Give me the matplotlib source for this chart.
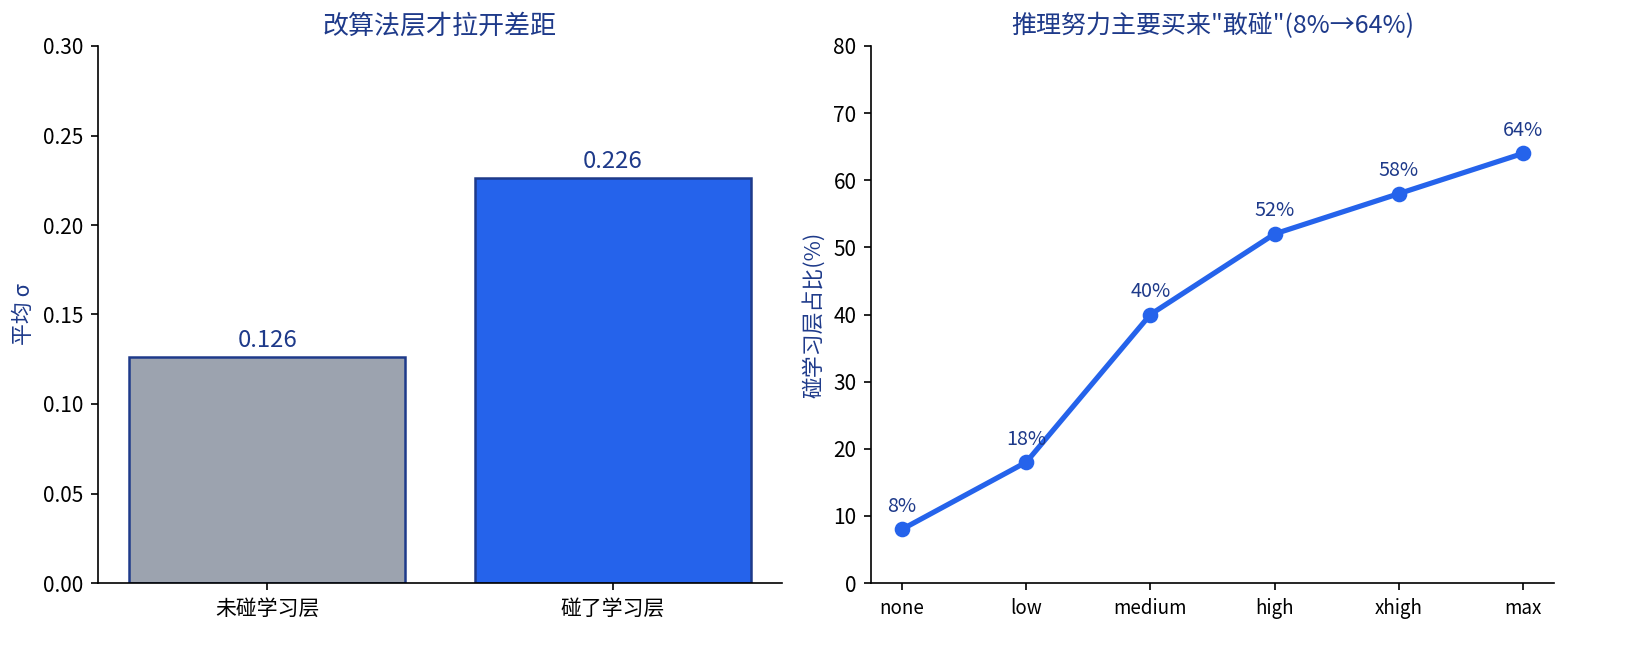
import matplotlib
matplotlib.use('Agg')
import matplotlib.pyplot as plt

# Data
bar_labels = ['未碰学习层', '碰了学习层']
bar_values = [0.126, 0.226]
effort_levels = ['none', 'low', 'medium', 'high', 'xhigh', 'max']
touch_pct = [8, 18, 40, 52, 58, 64]

plt.rcParams['font.family'] = ['Noto Sans CJK SC', 'DejaVu Sans']
navy = '#1e3a8a'
blue = '#2563eb'
gray = '#9ca3af'

fig = plt.figure(figsize=(1634/150, 659/150), dpi=150)
ax1 = fig.add_axes([98/1634, 1-583/659, 684/1634, 537/659])
ax2 = fig.add_axes([871/1634, 1-583/659, 683/1634, 537/659])

# Left: mean sigma bars
bars = ax1.bar(bar_labels, bar_values, width=0.8, color=[gray, blue],
               edgecolor=navy, linewidth=1.2)
for b, v in zip(bars, bar_values):
    ax1.text(b.get_x()+b.get_width()/2, v+0.003, '%.3f' % v,
             ha='center', va='bottom', fontsize=11.5, color=navy)
ax1.set_ylim(0, 0.30)
ax1.set_ylabel('平均 σ', color=navy, fontsize=10.5)
ax1.set_title('改算法层才拉开差距', color=navy, fontsize=12.5, pad=6)
ax1.tick_params(axis='x', labelsize=10)
ax1.tick_params(axis='y', labelsize=10)

# Right: share of runs touching learning layers
x = range(len(effort_levels))
ax2.plot(x, touch_pct, color=blue, linewidth=2.5, marker='o', markersize=6.5)
for i, v in zip(x, touch_pct):
    ax2.annotate('%d%%' % v, (i, v), xytext=(0, 6), textcoords='offset points',
                 ha='center', va='bottom', fontsize=9.5, color=navy)
ax2.set_xticks(list(x))
ax2.set_xticklabels(effort_levels)
ax2.set_ylim(0, 80)
ax2.set_ylabel('碰学习层占比(%)', color=navy, fontsize=10.5)
ax2.set_title('推理努力主要买来"敢碰"(8%→64%)', color=navy, fontsize=12, pad=6)
ax2.tick_params(axis='x', labelsize=9)
ax2.tick_params(axis='y', labelsize=10)

for ax in (ax1, ax2):
    ax.spines['top'].set_visible(False)
    ax.spines['right'].set_visible(False)

fig.savefig('out.png', dpi=150)
